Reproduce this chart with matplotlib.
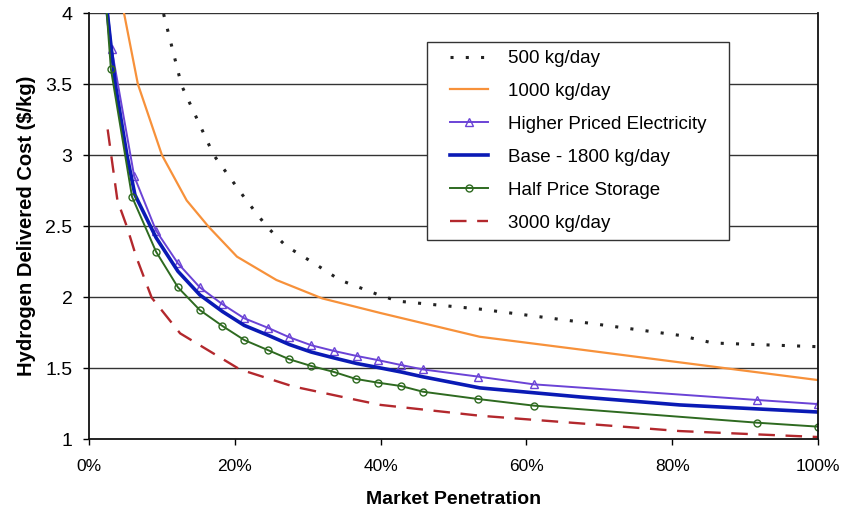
import matplotlib
matplotlib.use("Agg")
import matplotlib.pyplot as plt
from matplotlib.ticker import FixedLocator
from matplotlib.patches import Rectangle

plt.rcParams['font.family'] = ['Liberation Sans', 'DejaVu Sans']

# Market penetration (%) and delivered cost ($/kg)
x_500 = [9.8, 10.2, 12.7, 17.1, 21.6, 24.4, 27.0, 30.8, 34.4, 40.0, 42.5, 53.6, 67.4, 81.0, 85.6, 100.0]
y_500 = [4.1, 4.0, 3.49, 3.0, 2.68, 2.495, 2.36, 2.24, 2.12, 2.01, 1.97, 1.915, 1.824, 1.73, 1.676, 1.65]

x_1000 = [4.5, 4.8, 6.7, 10.0, 13.4, 16.4, 20.3, 25.7, 32.0, 40.0, 53.6, 67.4, 81.0, 100.0]
y_1000 = [4.1, 4.0, 3.5, 3.0, 2.68, 2.495, 2.284, 2.12, 1.99, 1.887, 1.72, 1.63, 1.54, 1.415]

x_hpe = [2.3, 3.1, 6.2, 9.2, 12.2, 15.2, 18.3, 21.3, 24.5, 27.5, 30.5, 33.6, 36.7, 39.6, 42.8, 45.8, 53.3, 61.0, 91.6, 100.0]
y_hpe = [4.15, 3.75, 2.85, 2.467, 2.237, 2.068, 1.949, 1.85, 1.784, 1.716, 1.66, 1.62, 1.585, 1.556, 1.521, 1.49, 1.44, 1.385, 1.275, 1.246]

x_base = [2.3, 3.6, 5.2, 6.3, 9.2, 12.2, 15.2, 18.3, 21.3, 24.5, 27.5, 30.5, 33.6, 36.7, 39.6, 42.8, 45.8, 53.6, 67.4, 81.0, 100.0]
y_base = [4.1, 3.5, 3.0, 2.72, 2.418, 2.181, 2.015, 1.898, 1.80, 1.732, 1.665, 1.612, 1.571, 1.532, 1.504, 1.472, 1.438, 1.36, 1.296, 1.24, 1.19]

x_hps = [2.3, 3.0, 5.9, 9.2, 12.2, 15.2, 18.3, 21.3, 24.5, 27.5, 30.5, 33.6, 36.6, 39.6, 42.8, 45.8, 53.3, 61.0, 91.6, 100.0]
y_hps = [4.1, 3.606, 2.706, 2.319, 2.068, 1.908, 1.796, 1.697, 1.627, 1.561, 1.514, 1.472, 1.423, 1.397, 1.373, 1.333, 1.282, 1.235, 1.115, 1.087]

x_3000 = [2.56, 3.9, 5.2, 6.5, 8.6, 12.5, 20.7, 28.0, 36.7, 40.0, 53.6, 67.4, 81.0, 100.0]
y_3000 = [3.18, 2.68, 2.495, 2.28, 1.995, 1.744, 1.49, 1.37, 1.275, 1.24, 1.164, 1.11, 1.056, 1.014]

x_ticks = [0, 20, 40, 60, 80, 100]
x_labels = ['0%', '20%', '40%', '60%', '80%', '100%']
y_ticks = [1, 1.5, 2, 2.5, 3, 3.5, 4]
y_labels = ['1', '1.5', '2', '2.5', '3', '3.5', '4']

fig = plt.figure(figsize=(8.41, 5.11), dpi=100)
ax = fig.add_axes([89/841, 1-439/511, (818-89)/841, (439-13)/511])

ax.plot(x_500, y_500, color='#222222', lw=2.2, linestyle=(0, (1, 4)), label='500 kg/day')
ax.plot(x_1000, y_1000, color='#F7913A', lw=1.6, label='1000 kg/day')
ax.plot(x_hpe, y_hpe, color='#6B43D6', lw=1.4, marker='^', markersize=5.5,
        markerfacecolor='none', markeredgewidth=1.0, label='Higher Priced Electricity')
ax.plot(x_base, y_base, color='#0A1AB5', lw=2.6, label='Base - 1800 kg/day')
ax.plot(x_hps, y_hps, color='#2E6A20', lw=1.4, marker='o', markersize=5,
        markerfacecolor='none', markeredgewidth=1.0, label='Half Price Storage')
ax.plot(x_3000, y_3000, color='#B3282D', lw=1.7, linestyle=(0, (7, 4.5)), label='3000 kg/day')

ax.set_xlim(0, 100)
ax.set_ylim(1, 4)
ax.xaxis.set_major_locator(FixedLocator(x_ticks))
ax.set_xticklabels(x_labels)
ax.yaxis.set_major_locator(FixedLocator(y_ticks))
ax.set_yticklabels(y_labels)
ax.tick_params(axis='both', direction='out', length=4.5, width=1, colors='black')
ax.tick_params(axis='x', pad=10, labelsize=12.5)
ax.tick_params(axis='y', pad=7.4, labelsize=14)

for yv in y_ticks[1:]:
    ax.axhline(yv, color='#333333', lw=1.0, zorder=0)

for s in ['left', 'bottom', 'right']:
    ax.spines[s].set_color('#111111')
    ax.spines[s].set_linewidth(1.3)
ax.spines['top'].set_visible(False)

ax.set_xlabel('Market Penetration', fontsize=14, fontweight='bold', labelpad=12)
ax.set_ylabel('Hydrogen Delivered Cost ($/kg)', fontsize=14.5, fontweight='bold', labelpad=7)

# legend frame box (drawn separately to match the wide side padding)
W, H = 729.0, 426.0
frame = Rectangle(((427-89)/W, (439-240)/H), 302/W, 198/H, transform=ax.transAxes,
                  facecolor='white', edgecolor='#333333', lw=1.0, zorder=5, clip_on=False)
ax.add_patch(frame)

leg = ax.legend(loc='upper left', bbox_to_anchor=((450-89)/W, (439-50)/H),
                fontsize=13.5, frameon=False, handlelength=2.0,
                labelspacing=0.84, borderpad=0, handletextpad=1.07, borderaxespad=0)
leg.set_zorder(6)

fig.savefig('out.png', dpi=100)
